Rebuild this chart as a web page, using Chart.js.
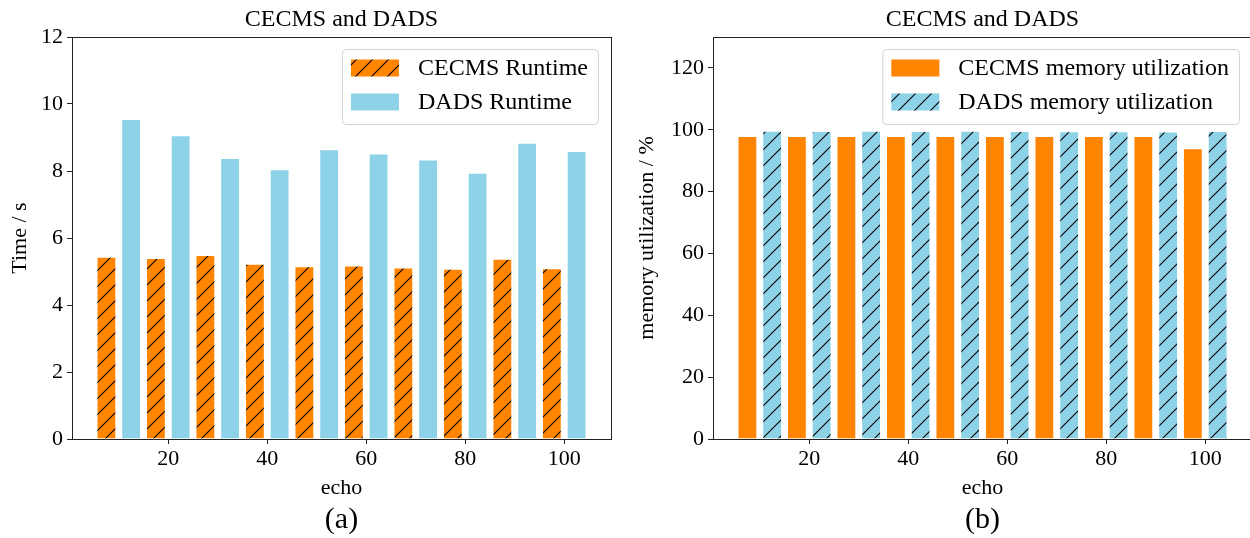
<!DOCTYPE html>
<html><head><meta charset="utf-8">
<script src="https://cdn.jsdelivr.net/npm/chart.js@4.4.1/dist/chart.umd.min.js"></script>
<style>
html,body{margin:0;padding:0;background:#fff;overflow:hidden;width:1250px;height:538px;position:relative;}
#ca{position:absolute;left:0;top:0;}
#cb{position:absolute;left:625px;top:0;}
</style></head><body>
<canvas id="ca" width="625" height="538"></canvas>
<canvas id="cb" width="630" height="538"></canvas>
<script>
// ---- data ----
const echo = [10, 20, 30, 40, 50, 60, 70, 80, 90, 100];
const cecmsRuntime = [5.44, 5.40, 5.49, 5.23, 5.16, 5.18, 5.12, 5.08, 5.38, 5.10];
const dadsRuntime  = [9.55, 9.07, 8.39, 8.05, 8.65, 8.52, 8.34, 7.95, 8.84, 8.60];
const cecmsMemory  = [98, 98, 98, 98, 98, 98, 98, 98, 98, 94];
const dadsMemory   = [99.7, 99.6, 99.7, 99.6, 99.7, 99.6, 99.5, 99.5, 99.4, 99.6];
const xTickValues = [20, 40, 60, 80, 100];
const runtimeTicks = [0, 2, 4, 6, 8, 10, 12];
const memoryTicks = [0, 20, 40, 60, 80, 100, 120];

// ---- styles ----
const FONT = "'Liberation Serif', 'Times New Roman', serif";
const ORANGE = '#FF8400';
const BLUE = '#8ED2E8';
Chart.defaults.font.family = FONT;
Chart.defaults.color = '#000';

function hatch(color) {
  const s = 16;
  const c = document.createElement('canvas');
  c.width = s; c.height = s;
  const g = c.getContext('2d');
  g.fillStyle = color; g.fillRect(0, 0, s, s);
  g.strokeStyle = '#000'; g.lineWidth = 1.1;
  g.beginPath();
  g.moveTo(-2, s + 2); g.lineTo(s + 2, -2);
  g.moveTo(-2, 2); g.lineTo(2, -2);
  g.moveTo(s - 2, s + 2); g.lineTo(s + 2, s - 2);
  g.stroke();
  return g.createPattern(c, 'repeat');
}

const pts = (ys) => echo.map((e, i) => ({ x: e, y: ys[i] }));

const framePlugin = {
  id: 'frame',
  afterLayout(chart) {
    const ca = chart.chartArea;
    chart.boxes.forEach(b => {
      if (b.options && typeof b.options.text === 'string' && !('axis' in b)) {
        b.left = ca.left; b.right = ca.right; b.width = ca.right - ca.left;
      }
    });
  },
  afterDatasetsDraw(chart) {
    const ca = chart.chartArea, ctx = chart.ctx;
    ctx.save();
    ctx.strokeStyle = '#222'; ctx.lineWidth = 1;
    ctx.strokeRect(Math.round(ca.left) + 0.5, Math.round(ca.top) + 0.5,
                   Math.round(ca.right - ca.left), Math.round(ca.bottom - ca.top));
    ctx.restore();
  }
};

const legendPlugin = {
  id: 'boxLegend',
  afterDraw(chart) {
    const ctx = chart.ctx, ca = chart.chartArea;
    ctx.save();
    ctx.font = '24px ' + FONT;
    const items = chart.data.datasets;
    const tw = Math.max(...items.map(d => ctx.measureText(d.label).width));
    const w = 9 + 48 + 19 + tw + 10, h = 75;
    const x = ca.right - 13 - w, y = ca.top + 12;
    ctx.beginPath();
    ctx.roundRect(x + 0.5, y + 0.5, w, h, 4);
    ctx.fillStyle = 'rgba(255,255,255,0.85)';
    ctx.fill();
    ctx.strokeStyle = '#d3d3d3'; ctx.lineWidth = 1;
    ctx.stroke();
    items.forEach((d, k) => {
      const cy = y + 19 + k * 34;
      ctx.fillStyle = d.backgroundColor;
      ctx.fillRect(x + 9, cy - 8.5, 48, 17);
      ctx.fillStyle = '#000';
      ctx.textBaseline = 'middle';
      ctx.textAlign = 'left';
      ctx.fillText(d.label, x + 9 + 48 + 19, cy + 1);
    });
    ctx.restore();
  }
};

function makeChart(id, cfg) {
  return new Chart(document.getElementById(id), {
    type: 'bar',
    data: { datasets: cfg.datasets },
    options: {
      responsive: false,
      animation: false,
      layout: { padding: { left: 0, right: cfg.padRight, top: 0, bottom: 0 } },
      datasets: { bar: { categoryPercentage: 1.0, barPercentage: 0.8, borderWidth: 1, borderColor: '#ffffff', borderSkipped: 'start' } },
      plugins: {
        legend: { display: false },
        tooltip: { enabled: false },
        title: { display: true, text: 'CECMS and DADS', font: { size: 24, weight: 'normal' }, color: '#000', padding: { top: 5.5, bottom: 2.7 } },
        subtitle: { display: true, text: cfg.sub, position: 'bottom', font: { size: 30 }, color: '#000', padding: { top: 0, bottom: 0 } }
      },
      scales: {
        x: {
          type: 'linear', min: 0.55, max: 109.45, offset: false,
          afterBuildTicks: s => { s.ticks = xTickValues.map(v => ({ value: v })); },
          afterFit: s => { s.height = 538 - 30 * 1.2 - 439; },
          ticks: { font: { size: 22 }, color: '#000', padding: 2, maxRotation: 0 },
          grid: { display: true, offset: false, drawOnChartArea: false, drawTicks: true, tickLength: 5, color: '#222', tickWidth: 1 },
          border: { display: true, color: '#222', width: 1 },
          title: { display: true, text: 'echo', font: { size: 22 }, color: '#000', padding: { top: 0, bottom: 1 } }
        },
        y: {
          type: 'linear', min: 0, max: cfg.yMax,
          afterBuildTicks: s => { s.ticks = cfg.yTicks.map(v => ({ value: v })); },
          afterFit: s => { s.width = cfg.yWidth; },
          ticks: { font: { size: 22 }, color: '#000', padding: 4 },
          grid: { display: true, offset: false, drawOnChartArea: false, drawTicks: true, tickLength: 5, color: '#222', tickWidth: 1 },
          border: { display: true, color: '#222', width: 1 },
          title: { display: true, text: cfg.yTitle, font: { size: 22 }, color: '#000', padding: { top: cfg.yTitlePad, bottom: 0 } }
        }
      }
    },
    plugins: [framePlugin, legendPlugin]
  });
}

makeChart('ca', {
  datasets: [
    { label: 'CECMS Runtime', data: pts(cecmsRuntime), backgroundColor: hatch(ORANGE) },
    { label: 'DADS Runtime', data: pts(dadsRuntime), backgroundColor: BLUE }
  ],
  yMax: 12, yTicks: runtimeTicks, yTitle: 'Time / s', sub: '(a)',
  yWidth: 72, padRight: 14, yTitlePad: 7
});

makeChart('cb', {
  datasets: [
    { label: 'CECMS memory utilization', data: pts(cecmsMemory), backgroundColor: ORANGE },
    { label: 'DADS memory utilization', data: pts(dadsMemory), backgroundColor: hatch(BLUE) }
  ],
  yMax: 130, yTicks: memoryTicks, yTitle: 'memory utilization / %', sub: '(b)',
  yWidth: 88, padRight: 3, yTitlePad: 9
});
</script>
</body></html>
